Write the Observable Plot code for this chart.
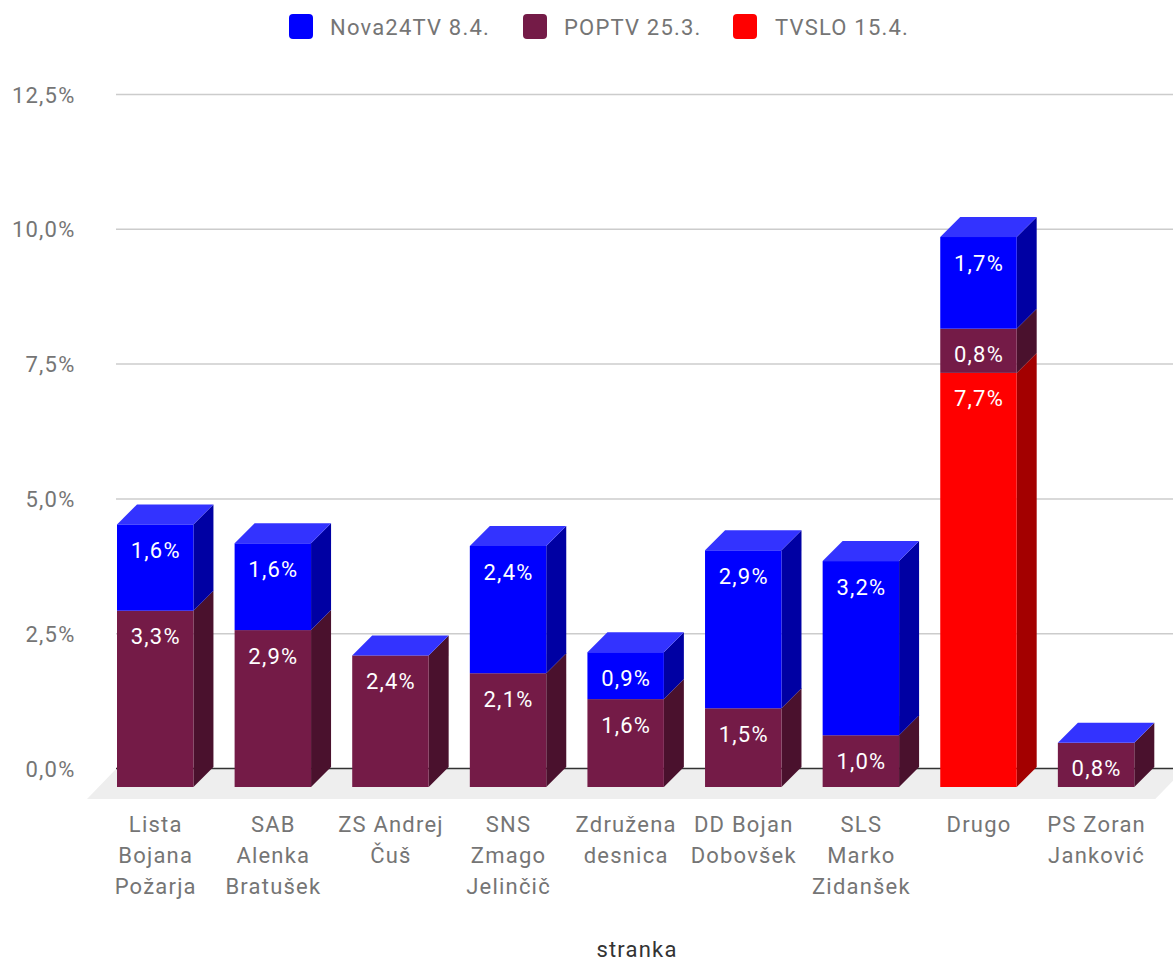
<!DOCTYPE html>
<html>
<head>
<meta charset="utf-8">
<script src="https://cdn.jsdelivr.net/npm/d3@7"></script>
<script src="https://cdn.jsdelivr.net/npm/@observablehq/plot@0.6"></script>
<style>
  html, body { margin: 0; padding: 0; background: #fff; width: 1173px; height: 960px; overflow: hidden; }
  #legend { height: 46px; position: relative; font: 22px Roboto, sans-serif; color: #757575; letter-spacing: 1.2px; }
  #legend span { position: absolute; top: 14px; line-height: 28px; white-space: nowrap; }
  #legend i { position: absolute; top: 14px; width: 24px; height: 25px; border-radius: 4px; }
  svg { display: block; }
  svg text { letter-spacing: 1.2px; }
</style>
</head>
<body>
<div id="legend"></div>
<div id="chart"></div>
<script>
const categories = [
  "Lista\nBojana\nPožarja", "SAB\nAlenka\nBratušek", "ZS Andrej\nČuš", "SNS\nZmago\nJelinčič",
  "Združena\ndesnica", "DD Bojan\nDobovšek", "SLS\nMarko\nZidanšek", "Drugo", "PS Zoran\nJanković"
];
const tvslo  = [0, 0, 0, 0, 0, 0, 0, 7.68, 0];
const poptv  = [3.27, 2.91, 2.44, 2.11, 1.63, 1.46, 0.96, 0.82, 0.82];
const nova   = [1.6, 1.61, 0, 2.36, 0.87, 2.93, 3.23, 1.7, 0];
const seriesNames = ["TVSLO 15.4.", "POPTV 25.3.", "Nova24TV 8.4."];
const seriesValues = [tvslo, poptv, nova];
const frontColors = ["#ff0000", "#741b47", "#0000ff"];
const sideColors = ["#a30000", "#4a112d", "#0000a3"];
const topColor = "#3333ff";
const yTicks = [0, 2.5, 5, 7.5, 10, 12.5];
const axisTitle = "stranka";

// Legend (reference order: Nova24TV, POPTV, TVSLO)
const legendLeft = [[289, 330], [523, 564], [733, 775]];
const legend = document.getElementById("legend");
[2, 1, 0].forEach((s, i) => {
  const sw = document.createElement("i");
  sw.style.left = legendLeft[i][0] + "px";
  sw.style.background = frontColors[s];
  const label = document.createElement("span");
  label.style.left = legendLeft[i][1] + "px";
  label.textContent = seriesNames[s];
  legend.append(sw, label);
});

// Stack table
const rows = [];
categories.forEach((category, c) => {
  let base = 0;
  seriesValues.forEach((vals, s) => {
    rows.push({category, series: s, value: vals[c], y1: base, y2: base + vals[c]});
    base += vals[c];
  });
});
const comma = v => v.toFixed(1).replace(".", ",") + "%";

const FRONT_DY = 19, DEPTH_X = 20, DEPTH_Y = 20;

function face(kind, fill) {
  return function (index, scales, values, dimensions, context) {
    const bw = scales.scales.x.bandwidth;
    const g = d3.select(context.document.createElementNS("http://www.w3.org/2000/svg", "g"));
    g.selectAll("path").data(Array.from(index)).join("path")
      .attr("fill", fill)
      .attr("d", i => {
        const xL = values.x[i], xR = xL + bw;
        const yT = Math.min(values.y1[i], values.y2[i]) + FRONT_DY;
        const yB = Math.max(values.y1[i], values.y2[i]) + FRONT_DY;
        return kind === "side"
          ? `M${xR},${yT}L${xR + DEPTH_X},${yT - DEPTH_Y}L${xR + DEPTH_X},${yB - DEPTH_Y}L${xR},${yB}Z`
          : `M${xL},${yT}L${xL + DEPTH_X},${yT - DEPTH_Y}L${xR + DEPTH_X},${yT - DEPTH_Y}L${xR},${yT}Z`;
      });
    return g.node();
  };
}

function floor(index, scales, values, dimensions, context) {
  const bw = scales.scales.x.bandwidth;
  const left = scales.x(categories[0]) - 30;
  const right = scales.x(categories[categories.length - 1]) + bw + 21;
  const y0 = scales.y(0);
  const p = context.document.createElementNS("http://www.w3.org/2000/svg", "path");
  p.setAttribute("fill", "#eeeeee");
  p.setAttribute("d", `M${left},${y0 + 31}L${left + 30},${y0}L${right + 30},${y0}L${right},${y0 + 31}Z`);
  return p;
}

const segs = s => rows.filter(d => d.series === s);
const visible = rows.filter(d => d.value > 0);

const chart = Plot.plot({
  width: 1173,
  height: 914,
  marginLeft: 116,
  marginRight: 0,
  marginTop: 48,
  marginBottom: 192,
  style: {fontFamily: "Roboto, sans-serif", fontSize: "22px", background: "#fff", overflow: "hidden"},
  x: {domain: categories, range: [117, 1134.3], paddingInner: 0.35, paddingOuter: 0, align: 0, round: false, label: null},
  y: {domain: [0, 12.5], label: null},
  marks: [
    Plot.ruleY(yTicks.filter(t => t > 0), {stroke: "#cccccc", strokeWidth: 1.5, strokeOpacity: 1}),
    floor,
    Plot.ruleY([0], {stroke: "#333333", strokeWidth: 1.5}),
    Plot.axisY({ticks: yTicks, tickSize: 0, tickPadding: 41, fill: "#757575", dy: 1,
      tickFormat: comma, label: null}),
    Plot.axisX({tickSize: 0, tickPadding: 41, fill: "#757575", lineHeight: 1.41, label: null}),
    ...[0, 1, 2].flatMap(s => [
      Plot.barY(segs(s).filter(d => d.value > 0), {x: "category", y1: "y1", y2: "y2", fill: "#000", render: face("side", sideColors[s])}),
      Plot.barY(segs(s).filter(d => d.value > 0), {x: "category", y1: "y1", y2: "y2", fill: frontColors[s], dy: FRONT_DY})
    ]),
    Plot.barY(segs(2), {x: "category", y1: "y2", y2: "y2", fill: "#000", render: face("top", topColor)}),
    Plot.text(visible, {x: "category", y: "y2", text: d => comma(d.value), fill: "#fff", dy: FRONT_DY + 26}),
    Plot.text([axisTitle], {frameAnchor: "bottom", dx: -8, dy: 188, fill: "#333333"})
  ]
});
document.getElementById("chart").append(chart);
</script>
</body>
</html>
